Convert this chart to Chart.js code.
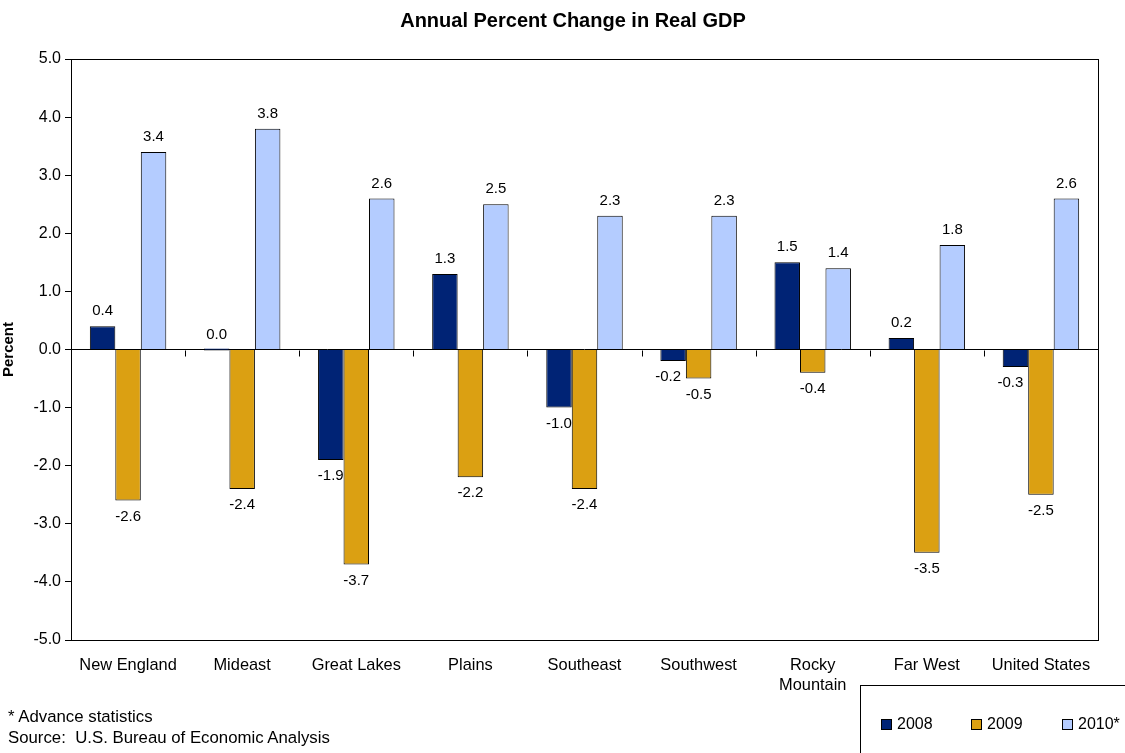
<!DOCTYPE html>
<html><head><meta charset="utf-8">
<script src="https://cdn.jsdelivr.net/npm/chart.js@4/dist/chart.umd.min.js"></script>
<style>
html,body{margin:0;padding:0;background:#fff;}
#wrap{position:relative;width:1125px;height:753px;}
.foot{position:absolute;left:8px;font:16.8px "Liberation Sans",Arial,sans-serif;color:#000;}
</style></head>
<body><div id="wrap"><canvas id="c" width="1125" height="753"></canvas>
<div class="foot" style="top:707px">* Advance statistics</div>
<div class="foot" style="top:728px">Source:&nbsp; U.S. Bureau of Economic Analysis</div>
</div>
<script>
const categories = ["New England","Mideast","Great Lakes","Plains","Southeast","Southwest",["Rocky","Mountain"],"Far West","United States"];
const seriesNames = ["2008","2009","2010*"];
const values2008 = [0.4, 0.0, -1.9, 1.3, -1.0, -0.2, 1.5, 0.2, -0.3];
const values2009 = [-2.6, -2.4, -3.7, -2.2, -2.4, -0.5, -0.4, -3.5, -2.5];
const values2010 = [3.4, 3.8, 2.6, 2.5, 2.3, 2.3, 1.4, 1.8, 2.6];
const chartTitle = 'Annual Percent Change in Real GDP';
const colors = ["#002375", "#DBA012", "#B4CCFF"];
const FONT = '"Liberation Sans", Arial, sans-serif';

const frame = {
  id:'frame',
  afterDraw(chart){
    const ctx = chart.ctx, a = chart.chartArea, y = chart.scales.y;
    ctx.save();
    // title
    ctx.font = 'bold 20px ' + FONT; ctx.fillStyle = '#000'; ctx.textAlign='center'; ctx.textBaseline='middle';
    ctx.fillText(chartTitle, 573, 21);
    ctx.strokeStyle = '#000'; ctx.lineWidth = 1;
    ctx.strokeRect(Math.round(a.left)+0.5, Math.round(a.top)+0.5, Math.round(a.right-a.left), Math.round(a.bottom-a.top));
    const y0 = Math.round(y.getPixelForValue(0))+0.5;
    const n = categories.length, w = (a.right - a.left)/n;
    ctx.beginPath();
    for(let k=1;k<n;k++){ const px = Math.round(a.left + k*w)+0.5; ctx.moveTo(px,y0); ctx.lineTo(px,y0+6);}
    ctx.stroke();
    ctx.font = '15px ' + FONT; ctx.fillStyle = '#000'; ctx.textAlign='center'; ctx.textBaseline='middle';
    chart.data.datasets.forEach((ds,di)=>{
      const meta = chart.getDatasetMeta(di);
      meta.data.forEach((bar,i)=>{
        const v = ds.data[i];
        const txt = v.toFixed(1);
        let ty = v >= 0 ? Math.min(bar.y, y.getPixelForValue(0)) - 15 : bar.y + 16;
        let tx = bar.x;
        if (v < 0 && v > -0.6 && di===0) tx -= 5;
        ctx.fillText(txt, tx, ty);
      });
    });
    ctx.strokeStyle = '#000';
    ctx.strokeRect(860.5, 685.5, 280, 80);
    ctx.font = '16px ' + FONT; ctx.textAlign='left'; ctx.textBaseline='middle';
    const lx = [881, 971, 1062];
    seriesNames.forEach((nm,i)=>{
      ctx.fillStyle = colors[i]; ctx.fillRect(lx[i]+0.5, 719.5, 10, 10);
      ctx.strokeRect(lx[i]+0.5, 719.5, 10, 10);
      ctx.fillStyle = '#000'; ctx.fillText(nm, lx[i]+16, 725);
    });
    ctx.restore();
  }
};

new Chart(document.getElementById('c'), {
  type:'bar',
  data:{
    labels: categories,
    datasets:[
      {label:seriesNames[0], data:values2008, backgroundColor:colors[0], borderColor:'#000', borderWidth:1},
      {label:seriesNames[1], data:values2009, backgroundColor:colors[1], borderColor:'#000', borderWidth:1},
      {label:seriesNames[2], data:values2010, backgroundColor:colors[2], borderColor:'#000', borderWidth:1}
    ]
  },
  options:{
    responsive:false, animation:false,
    datasets:{bar:{categoryPercentage:0.67, barPercentage:1.0, minBarLength:2}},
    layout:{padding:{left:0,right:27,top:59,bottom:0}},
    plugins:{
      legend:{display:false},
      tooltip:{enabled:false},
      title:{display:false}
    },
    scales:{
      x:{
        grid:{display:false},
        border:{display:false},
        ticks:{color:'#000', font:{family:FONT, size:16.4}, maxRotation:0, autoSkip:false, padding:8},
        afterFit(s){ s.height = 113; }
      },
      y:{
        min:-5, max:5,
        border:{display:false},
        grid:{
          color:(c)=> c.tick && c.tick.value===0 ? '#000' : 'rgba(0,0,0,0)',
          tickColor:'#000', tickLength:6, drawTicks:true
        },
        ticks:{stepSize:1, color:'#000', font:{family:FONT, size:16}, padding:4,
          callback:(v)=>Number(v).toFixed(1)},
        title:{display:true, text:'Percent', color:'#000', font:{family:FONT, size:15, weight:'bold'}, padding:{top:0,bottom:4}},
        afterFit(s){ s.width = 71; }
      }
    }
  },
  plugins:[frame]
});
</script></body></html>
